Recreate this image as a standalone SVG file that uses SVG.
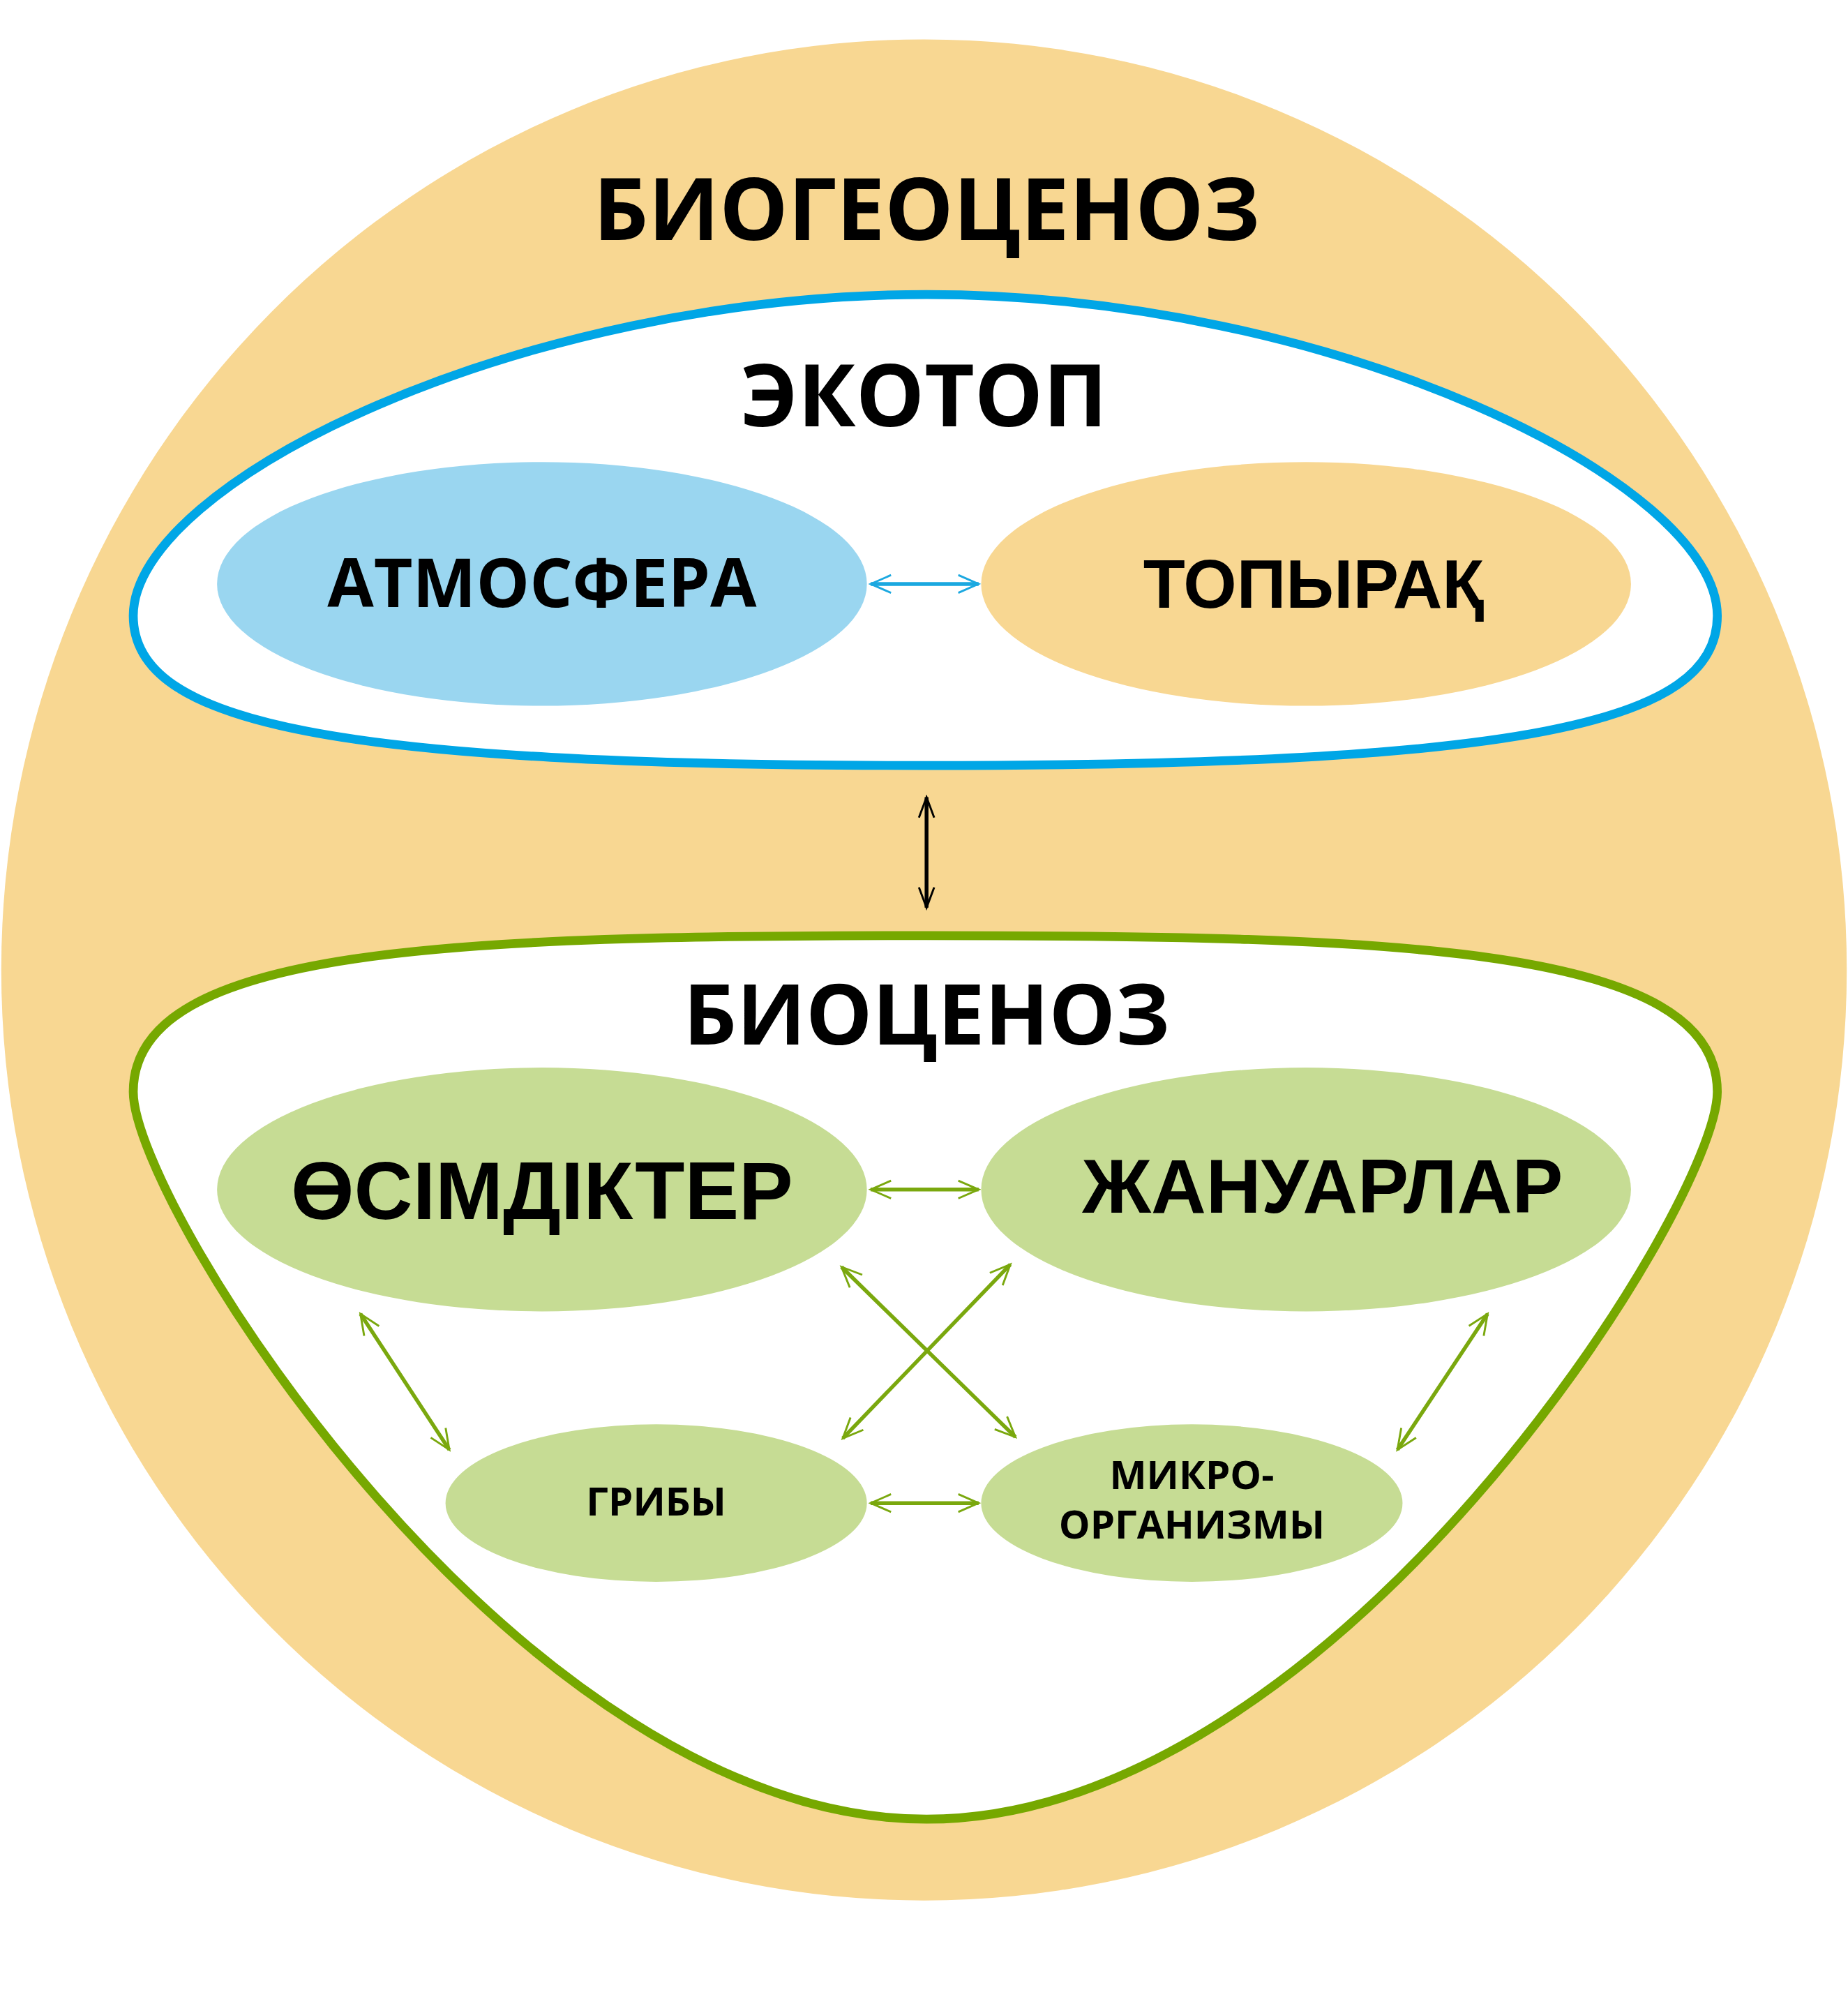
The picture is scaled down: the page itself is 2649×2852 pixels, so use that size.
<svg xmlns="http://www.w3.org/2000/svg" width="2649" height="2852" viewBox="0 0 2649 2852">
<style>
.t{font-family:"Open Sans","Liberation Sans",sans-serif;font-weight:bold;text-anchor:middle;fill:#000}
.a{font-family:"Liberation Sans",Arial,sans-serif;font-weight:bold;text-anchor:middle;fill:#000}
.g{stroke:#7aa80e;stroke-width:3;fill:none}
.b{stroke:#1ba8e0;stroke-width:3;fill:none}
.k{stroke:#000;stroke-width:3;fill:none}
</style>
<defs>
<marker id="mg" viewBox="0 0 20 20" refX="18" refY="10" markerWidth="20" markerHeight="20" markerUnits="userSpaceOnUse" orient="auto-start-reverse"><path d="M2 3 L18 10 L2 17" fill="none" stroke="#7aa80e" stroke-width="1.6"/></marker>
<marker id="mb" viewBox="0 0 20 20" refX="18" refY="10" markerWidth="20" markerHeight="20" markerUnits="userSpaceOnUse" orient="auto-start-reverse"><path d="M2 3 L18 10 L2 17" fill="none" stroke="#1ba8e0" stroke-width="1.6"/></marker>
<marker id="mk" viewBox="0 0 20 20" refX="18" refY="10" markerWidth="20" markerHeight="20" markerUnits="userSpaceOnUse" orient="auto-start-reverse"><path d="M2 4 L18 10 L2 16" fill="none" stroke="#000" stroke-width="1.6"/></marker>
</defs>
<rect width="2649" height="2852" fill="#fff"/>
<g transform="scale(1.8194)">
<g id="biogeocenoz">
<ellipse cx="728" cy="764" rx="727" ry="733" fill="#f8d792"/>
<text class="t" x="730" y="189" font-size="68">БИОГЕОЦЕНОЗ</text>
</g>
<g id="ecotop">
<path d="M730 603 C1200 603 1353 570 1353 485 C1353 380 1050 232 730 232 C410 232 105 380 105 485 C105 570 260 603 730 603 Z" fill="#fff" stroke="#00a6e6" stroke-width="7"/>
<text class="t" x="728" y="336" font-size="68">ЭКОТОП</text>
</g>
<g id="atmosfera"><ellipse cx="427" cy="460" rx="256" ry="96" fill="#9ad6f0"/><text class="t" x="427" y="478" font-size="53" font-weight="600">АТМОСФЕРА</text></g>
<g id="topyraq"><ellipse cx="1029" cy="460" rx="256" ry="96" fill="#f8d792"/><text class="a" x="1035" y="479" font-size="54">ТОПЫРАҚ</text></g>
<g id="biocenoz">
<path d="M730 737 C1100 737 1353 745 1353 860 C1353 950 1050 1433 730 1433 C410 1433 105 950 105 860 C105 745 360 737 730 737 Z" fill="#fff" stroke="#76a800" stroke-width="7"/>
<text class="t" x="730" y="823" font-size="66">БИОЦЕНОЗ</text>
</g>
<g id="osimdikter"><ellipse cx="427" cy="937" rx="256" ry="96" fill="#c6dc94"/><text class="a" x="427" y="960" font-size="64">ӨСІМДІКТЕР</text></g>
<g id="januarlar"><ellipse cx="1029" cy="937" rx="256" ry="96" fill="#c6dc94"/><text class="a" x="1042" y="955" font-size="60">ЖАНУАРЛАР</text></g>
<g id="griby"><ellipse cx="517" cy="1184" rx="166" ry="62" fill="#c6dc94"/><text class="t" x="517" y="1194" font-size="31" font-weight="600">ГРИБЫ</text></g>
<g id="mikro"><ellipse cx="939" cy="1184" rx="166" ry="62" fill="#c6dc94"/><text class="t" x="939" y="1173" font-size="31" font-weight="600">МИКРО-</text><text class="t" x="939" y="1212" font-size="31" font-weight="600">ОРГАНИЗМЫ</text></g>
<g id="connectors">
<line class="b" x1="686" y1="460" x2="771" y2="460" marker-start="url(#mb)" marker-end="url(#mb)"/>
<line class="k" x1="730" y1="628" x2="730" y2="715" marker-start="url(#mk)" marker-end="url(#mk)"/>
<line class="g" x1="686" y1="937" x2="771" y2="937" marker-start="url(#mg)" marker-end="url(#mg)"/>
<line class="g" x1="686" y1="1184" x2="771" y2="1184" marker-start="url(#mg)" marker-end="url(#mg)"/>
<line class="g" x1="284" y1="1035" x2="354" y2="1142" marker-start="url(#mg)" marker-end="url(#mg)"/>
<line class="g" x1="1172" y1="1035" x2="1101" y2="1142" marker-start="url(#mg)" marker-end="url(#mg)"/>
<line class="g" x1="663" y1="998" x2="800" y2="1132" marker-start="url(#mg)" marker-end="url(#mg)"/>
<line class="g" x1="796" y1="996" x2="664" y2="1133" marker-start="url(#mg)" marker-end="url(#mg)"/>
</g>
</g>
</svg>
